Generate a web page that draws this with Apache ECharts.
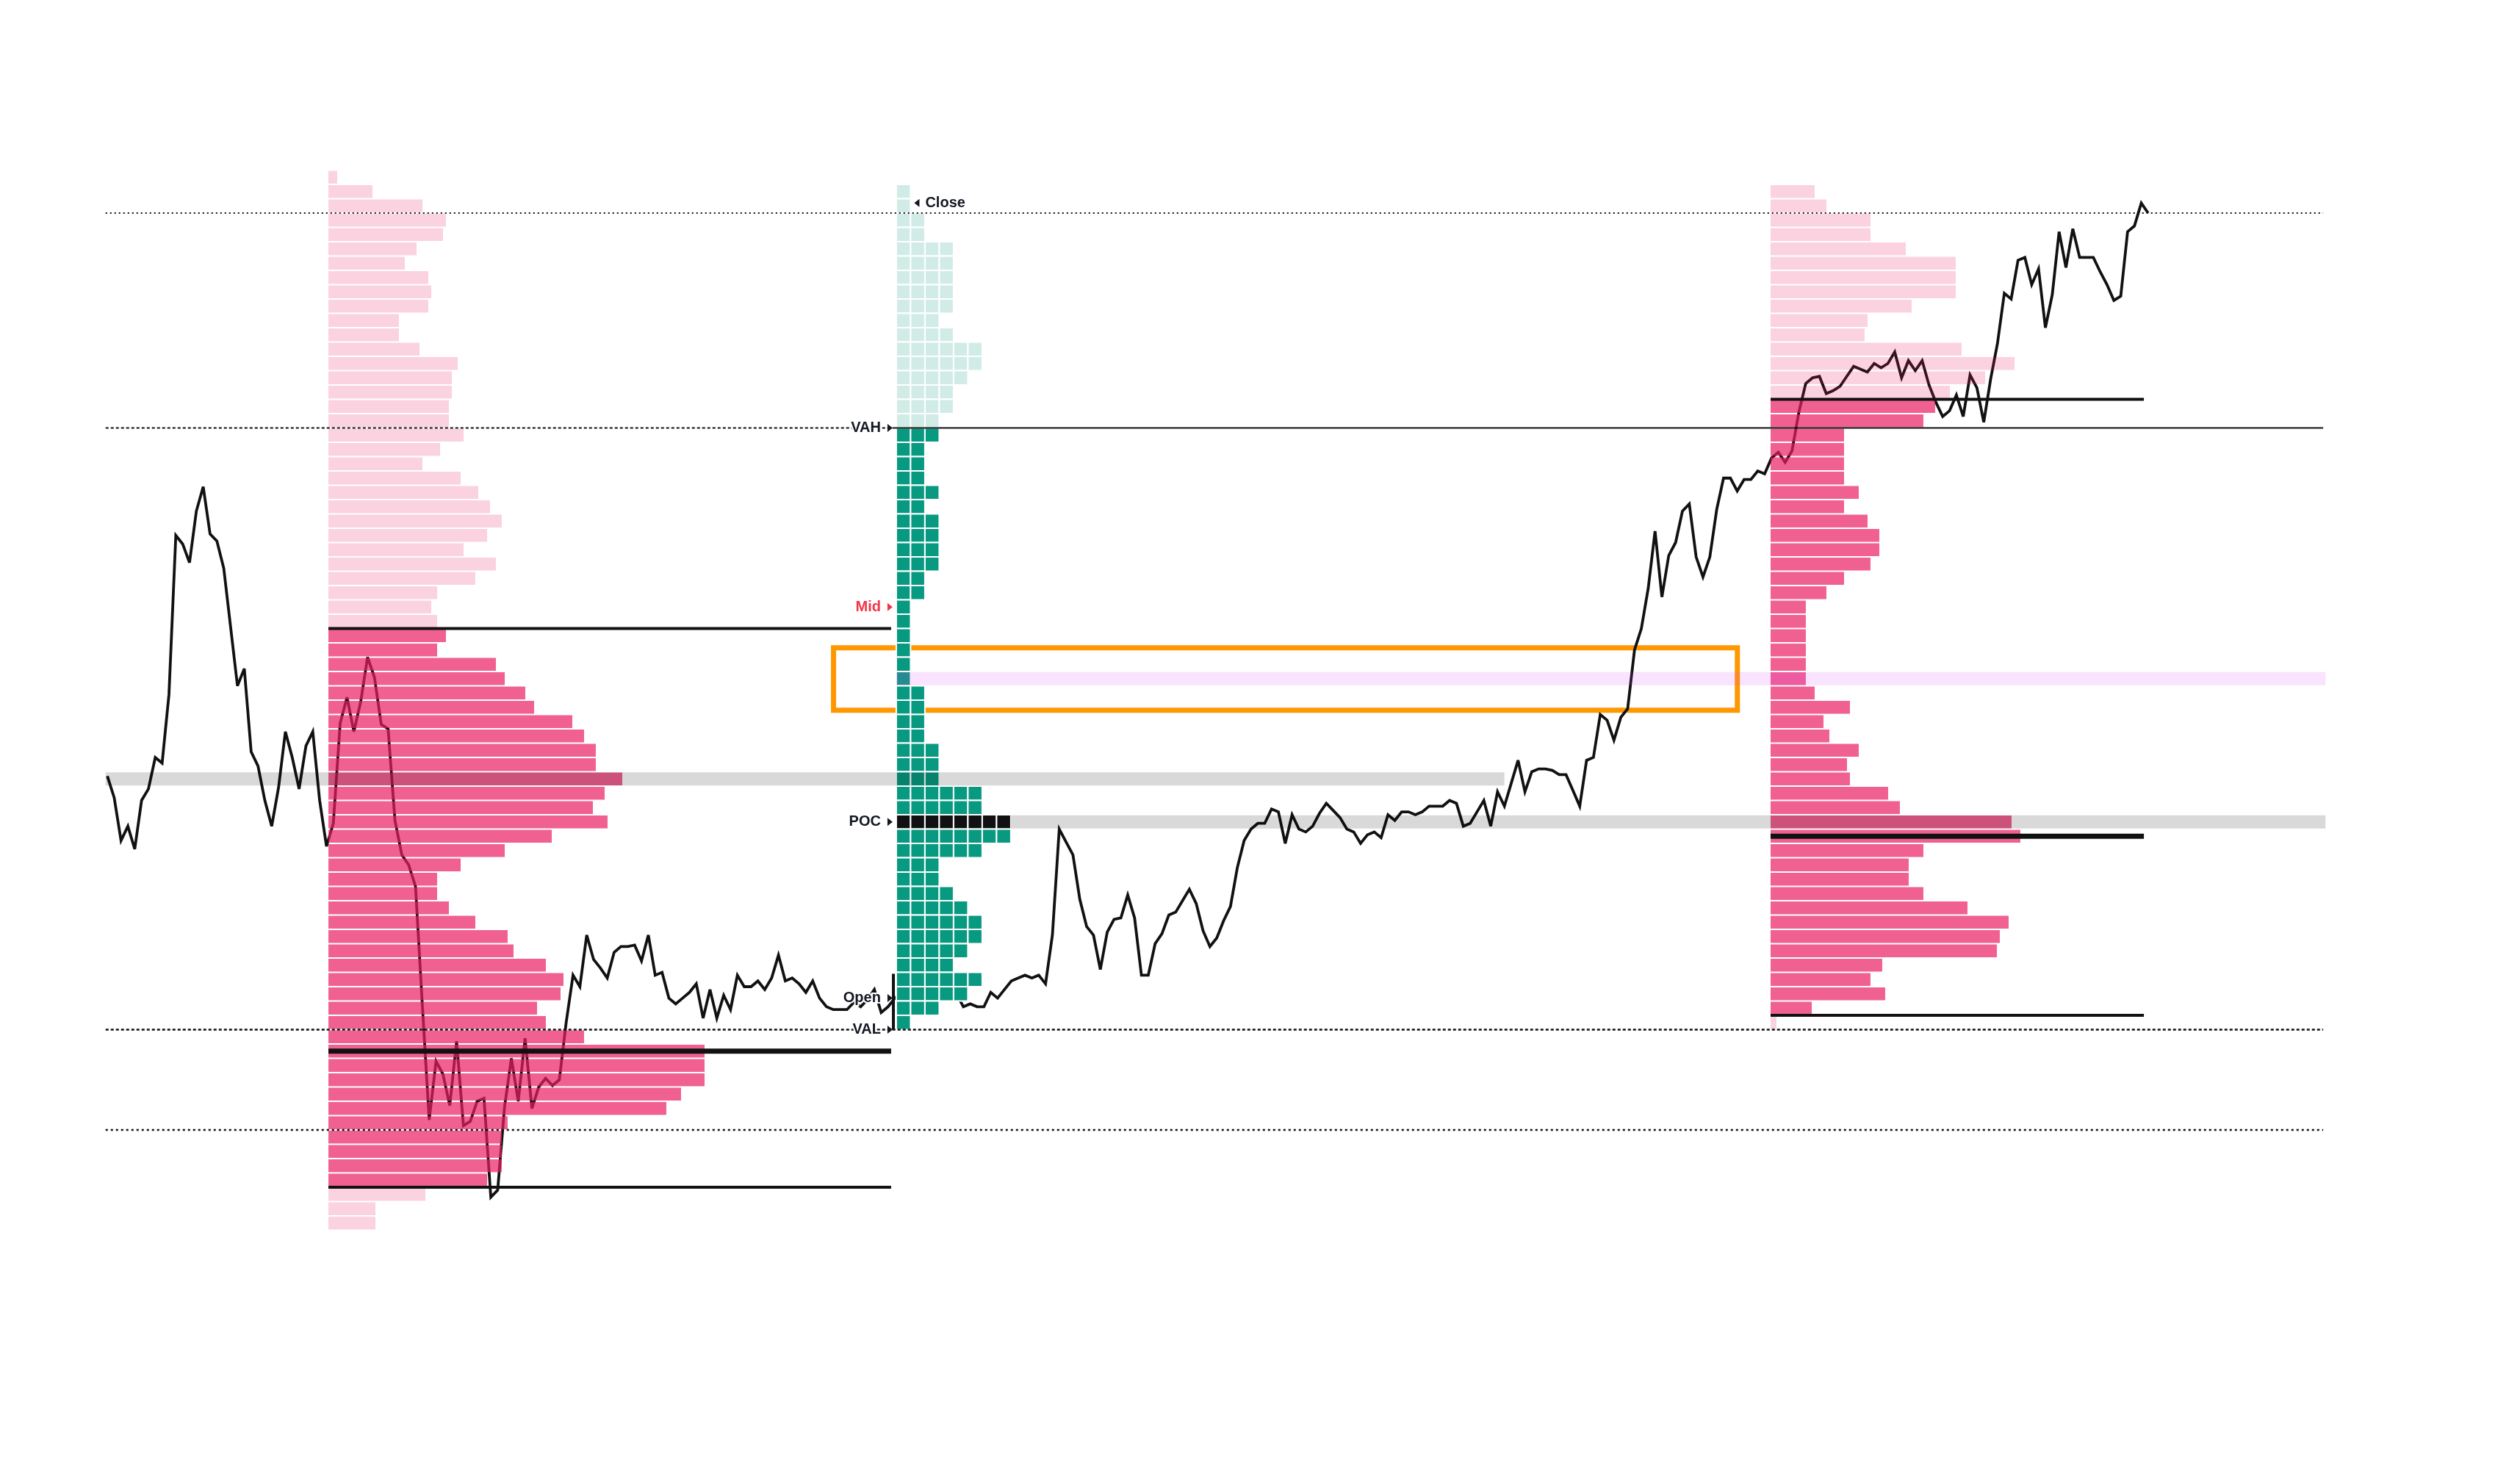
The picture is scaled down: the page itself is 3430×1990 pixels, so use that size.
<!DOCTYPE html>
<html>
<head>
<meta charset="utf-8">
<title>Session profiles</title>
<script src="https://cdn.jsdelivr.net/npm/echarts@6.0.0/dist/echarts.min.js"></script>
<style>
  html, body { margin: 0; padding: 0; background: #fff; }
  #main { width: 3430px; height: 1990px; }
</style>
</head>
<body>
<div id="main"></div>
<script>
// price path, one value per bar
var prices = [
  118.2, 116.7, 113.7, 114.7, 113.1, 116.5, 117.3, 119.5, 119.1, 123.9,
  135.0, 134.4, 133.1, 136.7, 138.4, 135.1, 134.6, 132.7, 128.6, 124.5,
  125.7, 119.9, 118.9, 116.5, 114.7, 117.4, 121.3, 119.5, 117.3, 120.3,
  121.3, 116.5, 113.3, 114.9, 121.9, 123.7, 121.3, 123.4, 126.5, 125.1,
  121.8, 121.5, 115.1, 112.7, 112.0, 110.5, 102.2, 94.2, 98.3, 97.4,
  95.2, 99.7, 93.8, 94.1, 95.5, 95.7, 88.8, 89.3, 95.1, 98.5,
  95.5, 99.9, 95.0, 96.5, 97.1, 96.6, 97.0, 101.0, 104.3, 103.5,
  107.1, 105.4, 104.8, 104.1, 105.9, 106.3, 106.3, 106.4, 105.3, 107.1,
  104.3, 104.5, 102.7, 102.3, 102.7, 103.1, 103.7, 101.3, 103.3, 101.3,
  102.9, 101.9, 104.3, 103.5, 103.5, 103.9, 103.3, 104.1, 105.7, 103.9,
  104.1, 103.7, 103.1, 103.9, 102.7, 102.1, 101.9, 101.9, 101.9, 102.4,
  102.1, 102.6, 103.3, 101.7, 102.1, 102.7, 103.1, 102.6, 103.4, 102.8,
  102.4, 102.9, 103.3, 102.9, 103.0, 102.1, 102.3, 102.1, 102.1, 103.1,
  102.7, 103.3, 103.9, 104.1, 104.3, 104.1, 104.3, 103.7, 107.1, 114.5,
  113.6, 112.7, 109.6, 107.7, 107.1, 104.7, 107.3, 108.2, 108.3, 109.9,
  108.3, 104.3, 104.3, 106.5, 107.2, 108.5, 108.7, 109.5, 110.3, 109.3,
  107.4, 106.3, 106.9, 108.1, 109.1, 111.8, 113.7, 114.5, 114.9, 114.9,
  115.9, 115.7, 113.5, 115.5, 114.5, 114.3, 114.7, 115.6, 116.3, 115.8,
  115.3, 114.5, 114.3, 113.5, 114.1, 114.3, 113.9, 115.5, 115.1, 115.7,
  115.7, 115.5, 115.7, 116.1, 116.1, 116.1, 116.5, 116.3, 114.7, 114.9,
  115.7, 116.5, 114.7, 117.1, 116.1, 117.7, 119.3, 117.1, 118.5, 118.7,
  118.7, 118.6, 118.3, 118.3, 117.2, 116.1, 119.3, 119.5, 122.5, 122.1,
  120.7, 122.3, 122.9, 127.0, 128.5, 131.3, 135.3, 130.7, 133.6, 134.5,
  136.7, 137.2, 133.5, 132.1, 133.5, 136.8, 139.0, 139.0, 138.1, 138.9,
  138.9, 139.5, 139.3, 140.4, 140.8, 140.1, 140.9, 143.6, 145.6, 146.0,
  146.1, 144.9, 145.1, 145.4, 146.1, 146.8, 146.6, 146.4, 147.0, 146.7,
  147.0, 147.8, 146.0, 147.2, 146.5, 147.2, 145.5, 144.3, 143.3, 143.7,
  144.8, 143.3, 146.2, 145.3, 142.9, 145.9, 148.4, 151.9, 151.5, 154.2,
  154.4, 152.5, 153.6, 149.5, 151.8, 156.2, 153.7, 156.4, 154.4, 154.4,
  154.4, 153.4, 152.5, 151.4, 151.7, 156.2, 156.6, 158.2, 157.5
];

// left session volume profile, rows from 160 down by 1
var leftTop = 160;
var leftVol = [
  3, 15, 32, 40, 39, 30, 26, 34, 35, 34,
  24, 24, 31, 44, 42, 42, 41, 41, 46, 38,
  32, 45, 51, 55, 59, 54, 46, 57, 50, 37,
  35, 37, 40, 37, 57, 60, 67, 70, 83, 87,
  91, 91, 100, 94, 90, 95, 76, 60, 45, 37,
  37, 41, 50, 61, 63, 74, 80, 79, 71, 74,
  87, 128, 128, 128, 120, 115, 61, 59, 59, 59,
  54, 33, 16, 16
];
var leftVAH = 128.5, leftVAL = 89.5, leftPOC = 99;

// middle session TPO counts, rows from 159 down by 1
var midTop = 159;
var midTPO = [
  1, 1, 2, 2, 4, 4, 4, 4, 4, 3, 4, 6, 6, 5, 4, 4, 3,
  3, 2, 2, 2, 3, 2, 3, 3, 3, 3, 2, 2, 1, 1, 1, 1, 1, 1,
  2, 2, 2, 2, 3, 3, 3, 6, 6, 8, 8, 6, 3, 3, 4, 5, 6, 6,
  5, 4, 6, 5, 3, 1
];
var midVAH = 142.5, midVAL = 100.5, midPOC = 115, midMid = 130;
var midOpen = 102.7, midClose = 158.2;
var openRange = [100.5, 104.4];

// right session volume profile, rows from 159 down by 1
var rightTop = 159;
var rightVol = [
  15, 19, 34, 34, 46, 63, 63, 63, 48, 33,
  32, 65, 83, 73, 61, 56, 52, 25, 25, 25,
  25, 30, 25, 33, 37, 37, 34, 25, 19, 12,
  12, 12, 12, 12, 12, 15, 27, 18, 20, 30,
  26, 27, 40, 44, 82, 85, 52, 47, 47, 52,
  67, 81, 78, 77, 38, 34, 39, 14, 2
];
var rightVAH = 144.5, rightVAL = 101.5, rightPOC = 114;

// reference levels
var highLevel = 157.5, lowLevel = 93.5;
var prevPOC = 118, focusLevel = 125;
var zoneTop = 127.15, zoneBottom = 122.8;

var labelTexts = ['Close', 'VAH', 'Mid', 'POC', 'Open', 'VAL'];
var labelPrices = [midClose, midVAH, midMid, midPOC, midOpen, midVAL];
var labelColors = ['#131722', '#131722', '#f23645', '#131722', '#131722', '#131722'];

// layout in bar-index units
var X_MIN = -0.25, X_MAX = 324;
var LEFT_BASE = 32.28, MID_BASE = 115.2, RIGHT_BASE = 242.87;
var LEFT_END = 114.45, RIGHT_END = 297.38, LEVEL_END = 323.56, BAND_END = 323.9;
var PREV_POC_END = 204.0, ZONE_X0 = 106.04, ZONE_X1 = 238.02;
var OPEN_BAR_X = 114.78, VAH_SOLID_X = 114.9;
var VOL_X = 0.4291;

var INK = '#111111';
var PINK_VA = 'rgba(233,30,99,0.7)', PINK_OUT = 'rgba(233,30,99,0.2)';
var TEAL_VA = '#089981', TEAL_OUT = '#d1ece6';
var FONT = 'bold 20px "Liberation Sans", Arial, sans-serif';

// x0, p0, x1, p1, width, dash
var levelLines = [
  [X_MIN, highLevel, LEVEL_END, highLevel, 2, [2, 4]],
  [X_MIN, midVAH, VAH_SOLID_X, midVAH, 2, [4, 3]],
  [VAH_SOLID_X, midVAH, LEVEL_END, midVAH, 2, null],
  [X_MIN, midVAL, LEVEL_END, midVAL, 2.5, [4, 3]],
  [X_MIN, lowLevel, LEVEL_END, lowLevel, 2.5, [3, 4]],
  [LEFT_BASE, leftVAH, LEFT_END, leftVAH, 4, null],
  [LEFT_BASE, leftPOC, LEFT_END, leftPOC, 7, null],
  [LEFT_BASE, leftVAL, LEFT_END, leftVAL, 4, null],
  [RIGHT_BASE, rightVAH, RIGHT_END, rightVAH, 4, null],
  [RIGHT_BASE, rightPOC, RIGHT_END, rightPOC, 7, null],
  [RIGHT_BASE, rightVAL, RIGHT_END, rightVAL, 4, null],
  [OPEN_BAR_X, openRange[0], OPEN_BAR_X, openRange[1], 4, null]
];

// x0, x1, price, colour, cells to skip
var bands = [
  [X_MIN, PREV_POC_END, prevPOC, 'rgba(0,0,0,0.15)', 0],
  [MID_BASE, BAND_END, midPOC, 'rgba(0,0,0,0.15)', midTPO[midTop - midPOC]],
  [MID_BASE, BAND_END, focusLevel, 'rgba(224,64,251,0.15)', 0]
];

function profileRender(top, vols, base, vaLow, vaHigh) {
  return function (params, api) {
    var i = params.dataIndex;
    var p = top - i;
    var a = api.coord([base, p + 0.5]);
    var b = api.coord([base + vols[i] * VOL_X, p - 0.5]);
    return {
      type: 'rect',
      shape: { x: a[0], y: a[1] + 1.1, width: b[0] - a[0], height: b[1] - a[1] - 2.2 },
      style: { fill: (p > vaLow && p < vaHigh) ? PINK_VA : PINK_OUT }
    };
  };
}

function tpoRender(params, api) {
  var i = params.dataIndex;
  var p = midTop - i;
  var a = api.coord([MID_BASE, p + 0.5]);
  var h = api.coord([MID_BASE, p - 0.5])[1] - a[1];
  var fill = p === midPOC ? INK : ((p > midVAL && p < midVAH) ? TEAL_VA : TEAL_OUT);
  var kids = [];
  for (var k = 0; k < midTPO[i]; k++) {
    kids.push({
      type: 'rect',
      shape: { x: a[0] + k * h, y: a[1], width: h, height: h },
      style: { fill: fill, stroke: '#fff', lineWidth: 2 }
    });
  }
  return { type: 'group', children: kids };
}

function bandRender(params, api) {
  var d = bands[params.dataIndex];
  var a = api.coord([d[0], d[2] + 0.5]);
  var b = api.coord([d[1], d[2] - 0.5]);
  var h = b[1] - a[1];
  var x0 = a[0] + d[4] * h;
  return {
    type: 'rect',
    shape: { x: x0, y: a[1] + 0.75, width: b[0] - x0, height: h - 1.5 },
    style: { fill: d[3] }
  };
}

function levelRender(params, api) {
  var d = levelLines[params.dataIndex];
  var a = api.coord([d[0], d[1]]);
  var b = api.coord([d[2], d[3]]);
  return {
    type: 'line',
    shape: { x1: a[0], y1: a[1], x2: b[0], y2: b[1] },
    style: { stroke: INK, lineWidth: d[4], lineDash: d[5] }
  };
}

function labelRender(params, api) {
  var i = params.dataIndex;
  var p = labelPrices[i];
  var c = api.coord([MID_BASE, p]);
  var h = api.coord([MID_BASE, p - 0.5])[1] - api.coord([MID_BASE, p + 0.5])[1];
  var y = c[1];
  var col = labelColors[i];
  var tri, txt;
  if (labelTexts[i] === 'Close') {
    var cells = midTPO[midTop - Math.round(p)];
    var tip = c[0] + cells * h + 5;
    tri = [[tip, y], [tip + 7, y - 5.5], [tip + 7, y + 5.5]];
    txt = { x: tip + 15, align: 'left' };
  } else {
    var tipR = c[0] - 5;
    tri = [[tipR, y], [tipR - 7, y - 5.5], [tipR - 7, y + 5.5]];
    txt = { x: tipR - 16, align: 'right' };
  }
  return {
    type: 'group',
    children: [
      { type: 'polygon', shape: { points: tri }, style: { fill: col } },
      {
        type: 'text',
        style: {
          text: labelTexts[i], x: txt.x, y: y, align: txt.align, verticalAlign: 'middle',
          font: FONT, fill: col, stroke: '#fff', lineWidth: 4, strokeFirst: true
        }
      }
    ]
  };
}

var chart = echarts.init(document.getElementById('main'));

var option = {
  animation: false,
  backgroundColor: '#ffffff',
  grid: { left: 143.77, right: 263.8, top: 46.25, bottom: 91.25 },
  xAxis: { type: 'value', min: X_MIN, max: X_MAX, show: false },
  yAxis: { type: 'value', min: 75, max: 170, show: false },
  series: [
    {
      type: 'custom', z: 1, silent: true, clip: false,
      data: [[ZONE_X0, zoneTop]],
      renderItem: function (params, api) {
        var a = api.coord([ZONE_X0, zoneTop]);
        var b = api.coord([ZONE_X1, zoneBottom]);
        return {
          type: 'rect',
          shape: { x: a[0], y: a[1], width: b[0] - a[0], height: b[1] - a[1] },
          style: { fill: 'none', stroke: '#ff9800', lineWidth: 7 }
        };
      }
    },
    {
      type: 'line', z: 2, silent: true,
      data: prices.map(function (v, i) { return [i, v]; }),
      showSymbol: false,
      lineStyle: { color: INK, width: 3.8, join: 'miter', miterLimit: 4 }
    },
    {
      type: 'custom', z: 3, silent: true, clip: false,
      data: leftVol.map(function (v, i) { return [LEFT_BASE + v * VOL_X, leftTop - i]; }),
      renderItem: profileRender(leftTop, leftVol, LEFT_BASE, leftVAL, leftVAH)
    },
    {
      type: 'custom', z: 3, silent: true, clip: false,
      data: rightVol.map(function (v, i) { return [RIGHT_BASE + v * VOL_X, rightTop - i]; }),
      renderItem: profileRender(rightTop, rightVol, RIGHT_BASE, rightVAL, rightVAH)
    },
    {
      type: 'custom', z: 3, silent: true, clip: false,
      data: midTPO.map(function (n, i) { return [MID_BASE + n, midTop - i]; }),
      renderItem: tpoRender
    },
    {
      type: 'custom', z: 4, silent: true, clip: false,
      data: bands.map(function (d) { return [d[0], d[2]]; }),
      renderItem: bandRender
    },
    {
      type: 'custom', z: 5, silent: true, clip: false,
      data: levelLines.map(function (d) { return [d[0], d[1]]; }),
      renderItem: levelRender
    },
    {
      type: 'custom', z: 6, silent: true, clip: false,
      data: labelPrices.map(function (p) { return [MID_BASE, p]; }),
      renderItem: labelRender
    }
  ]
};

chart.setOption(option);
</script>
</body>
</html>
